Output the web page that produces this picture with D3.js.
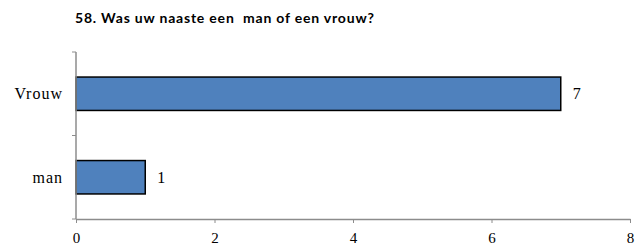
<!DOCTYPE html>
<html>
<head>
<meta charset="utf-8">
<script src="https://cdn.jsdelivr.net/npm/d3@7"></script>
<style>
    body { margin: 0; background: #fff; }
    svg { display: block; }
</style>
</head>
<body>
<svg id="chart" width="638" height="249"></svg>
<script>
const titleText = "58. Was uw naaste een  man of een vrouw?";
const categories = ["Vrouw", "man"];
const values = [7, 1];
const xTicks = [0, 2, 4, 6, 8];

const svg = d3.select("#chart");
const margin = { left: 76, top: 52 };
const axisY = 219;
const serif = "'Liberation Serif', serif";

const x = d3.scaleLinear()
    .domain([0, 8])
    .range([margin.left, 630]);

const y = d3.scaleBand()
    .domain(categories)
    .range([margin.top, axisY])
    .paddingInner(0.6)
    .paddingOuter(0.3);

// title
svg.append("text")
    .attr("x", 75)
    .attr("y", 23)
    .attr("xml:space", "preserve")
    .style("font-family", "Lato, sans-serif")
    .style("font-weight", "bold")
    .style("font-size", "14px")
    .style("letter-spacing", "0.8px")
    .attr("fill", "#000")
    .text(titleText);

// bars
svg.selectAll(".bar")
    .data(values)
    .enter().append("rect")
    .attr("class", "bar")
    .attr("x", x(0))
    .attr("y", (d, i) => y(categories[i]))
    .attr("width", d => x(d) - x(0))
    .attr("height", y.bandwidth())
    .attr("fill", "#4F81BD")
    .attr("stroke", "#000")
    .attr("stroke-width", 1.5);

// value labels
svg.selectAll(".val")
    .data(values)
    .enter().append("text")
    .attr("class", "val")
    .attr("x", d => x(d) + 12)
    .attr("y", (d, i) => y(categories[i]) + y.bandwidth() / 2)
    .attr("dy", "0.35em")
    .style("font-family", serif)
    .style("font-size", "16px")
    .text(d => d);

// x axis
const xAxis = svg.append("g")
    .attr("transform", `translate(0,${axisY})`)
    .call(d3.axisBottom(x).tickValues(xTicks).tickSize(4).tickSizeOuter(0).tickPadding(9));

xAxis.select(".domain").attr("stroke", "#8c8c8c").attr("stroke-width", 1.5);
xAxis.selectAll(".tick line").attr("stroke", "#8c8c8c");
xAxis.selectAll(".tick text")
    .style("font-family", serif)
    .style("font-size", "15px")
    .attr("fill", "#000");

// y axis (ticks at band boundaries)
const yAxisG = svg.append("g");
yAxisG.append("line")
    .attr("x1", x(0)).attr("x2", x(0))
    .attr("y1", margin.top).attr("y2", axisY)
    .attr("stroke", "#8c8c8c")
    .attr("stroke-width", 1.5);
const bounds = [margin.top, (margin.top + axisY) / 2, axisY];
yAxisG.selectAll(".ytick")
    .data(bounds)
    .enter().append("line")
    .attr("x1", x(0) - 4).attr("x2", x(0))
    .attr("y1", d => d).attr("y2", d => d)
    .attr("stroke", "#8c8c8c");
yAxisG.selectAll(".ylab")
    .data(categories)
    .enter().append("text")
    .attr("x", 63)
    .attr("y", d => y(d) + y.bandwidth() / 2)
    .attr("dy", "0.35em")
    .attr("text-anchor", "end")
    .style("font-family", serif)
    .style("font-size", "16px")
    .style("letter-spacing", "1px")
    .text(d => d);
</script>
</body>
</html>
